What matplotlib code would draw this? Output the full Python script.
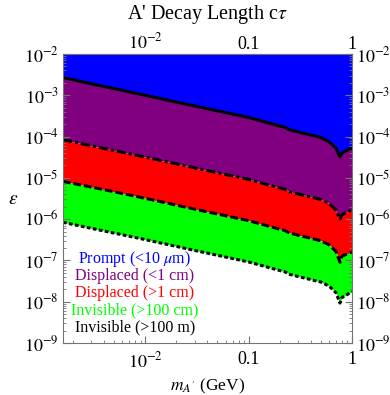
import numpy as np
import matplotlib
matplotlib.use('Agg')
import matplotlib.pyplot as plt
from matplotlib.ticker import FixedLocator, FixedFormatter, LogLocator, NullFormatter

plt.rcParams['font.family'] = 'Liberation Serif'
plt.rcParams['mathtext.fontset'] = 'stix'

# A' mass (GeV) and epsilon contours
mass = [0.0016, 0.003, 0.005, 0.01, 0.03, 0.1, 0.2, 0.22, 0.25, 0.3,
        0.5, 0.6, 0.7, 0.765, 0.8, 0.9, 1.0]
eps_10um = [2.7e-3, 1.9e-3, 1.45e-3, 1.0e-3, 5.5e-4, 2.9e-4, 1.8e-4, 1.72e-4, 1.45e-4, 1.3e-4,
            9.5e-5, 7.5e-5, 5.2e-5, 3.2e-5, 4.0e-5, 4.7e-5, 5.3e-5]
eps_1cm = [8.4e-5, 6.0e-5, 4.6e-5, 3.2e-5, 1.75e-5, 9.2e-6, 5.7e-6, 5.4e-6, 4.6e-6, 4.1e-6,
           3.0e-6, 2.4e-6, 1.65e-6, 1.0e-6, 1.27e-6, 1.5e-6, 1.68e-6]
eps_100cm = [8.2e-6, 6.0e-6, 4.6e-6, 3.2e-6, 1.75e-6, 9.2e-7, 5.7e-7, 5.4e-7, 4.6e-7, 4.1e-7,
             3.0e-7, 2.4e-7, 1.65e-7, 9.0e-8, 1.27e-7, 1.45e-7, 1.6e-7]
eps_100m = [8.4e-7, 6.0e-7, 4.6e-7, 3.2e-7, 1.75e-7, 9.2e-8, 5.7e-8, 5.4e-8, 4.6e-8, 4.1e-8,
            3.0e-8, 2.4e-8, 1.65e-8, 9.3e-9, 1.27e-8, 1.5e-8, 1.75e-8]

labels = ['Prompt (<10 $\\mu$m)', 'Displaced (<1 cm)', 'Displaced (>1 cm)',
          'Invisible (>100 cm)', 'Invisible (>100 m)']
colors = ['#0000ff', '#800080', '#ff0000', '#00ff00', 'black']

xticks = [0.01, 0.1, 1]
xticklabels = ['$10^{-2}$', '0.1', '1']
yticks = [1e-9, 1e-8, 1e-7, 1e-6, 1e-5, 1e-4, 1e-3, 1e-2]
yticklabels = ['$10^{-%d}$' % n for n in range(9, 1, -1)]

fig = plt.figure(figsize=(3.9, 3.95), dpi=100)
ax = fig.add_axes([0.1615, 0.1316, 0.741, 0.7317])
ax.set_xscale('log')
ax.set_yscale('log')
ax.set_xlim(0.0016, 1)
ax.set_ylim(1e-9, 1e-2)

ax.fill_between(mass, eps_10um, 1e-2, color=colors[0], lw=0)
ax.fill_between(mass, eps_1cm, eps_10um, color=colors[1], lw=0)
ax.fill_between(mass, eps_100cm, eps_1cm, color=colors[2], lw=0)
ax.fill_between(mass, eps_100m, eps_100cm, color=colors[3], lw=0)

ax.plot(mass, eps_10um, color='black', lw=2.2, solid_capstyle='butt')
ax.plot(mass, eps_1cm, color='black', lw=2.2, dashes=(3, 1, 1, 1))
ax.plot(mass, eps_100cm, color='black', lw=2.2, dashes=(2.5, 1))
ax.plot(mass, eps_100m, color='black', lw=2.2, dashes=(1.2, 0.8))

ypos = [0.29, 0.233, 0.174, 0.114, 0.053]
for lab, c, yy in zip(labels, colors, ypos):
    ax.text(0.249, yy, lab, color=c, fontsize=11.5, ha='center', va='center',
            transform=ax.transAxes)


def set_ticks(axis, ticks, ticklabels):
    axis.set_major_locator(FixedLocator(ticks))
    axis.set_major_formatter(FixedFormatter(ticklabels))
    axis.set_minor_locator(LogLocator(base=10, subs=np.arange(2, 10), numticks=20))
    axis.set_minor_formatter(NullFormatter())


set_ticks(ax.xaxis, xticks, xticklabels)
set_ticks(ax.yaxis, yticks, yticklabels)

ax.tick_params(which='both', direction='in', top=False, right=True,
               labelright=True, color='0.45', labelsize=13, pad=3)
ax.tick_params(axis='x', which='both', pad=6)
ax.tick_params(which='major', length=5, width=0.8)
ax.tick_params(which='minor', length=2.5, width=0.6)
for sp in ax.spines.values():
    sp.set_color('0.45')
    sp.set_linewidth(0.8)

top = ax.secondary_xaxis('top')
set_ticks(top.xaxis, xticks, xticklabels)
top.tick_params(which='both', direction='in', color='0.45', labelsize=13, pad=1)
top.tick_params(which='major', length=5, width=0.8)
top.tick_params(which='minor', length=2.5, width=0.6)
top.spines['top'].set_color('0.45')
top.spines['top'].set_linewidth(0.8)

ax.set_title("A' Decay Length c$\\tau$", fontsize=14.5, pad=25)
ax.set_xlabel("$m_{A'}$ (GeV)", fontsize=12.5, labelpad=4)
ax.set_ylabel('$\\epsilon$', fontsize=14, rotation=0, va='center')
ax.yaxis.set_label_coords(-0.173, 0.495)

fig.savefig('out.png', dpi=100)
